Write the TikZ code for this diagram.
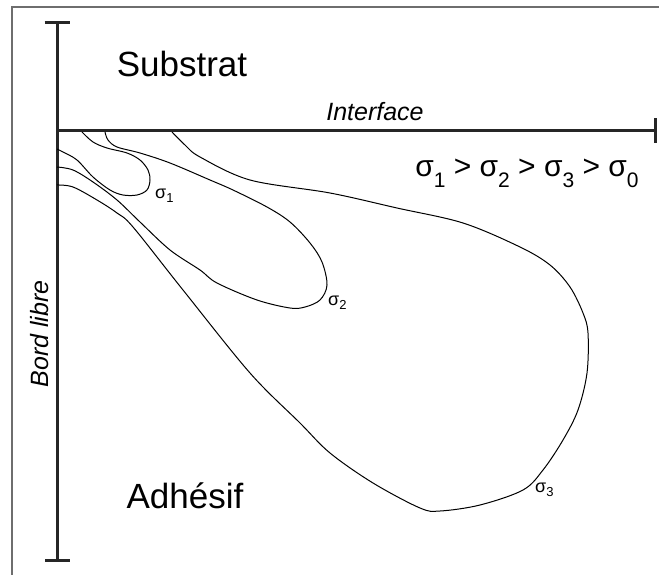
\documentclass[tikz,border=0pt]{standalone}
\usepackage{fontspec}
\setmainfont{Liberation Sans}
\usetikzlibrary{arrows.meta}
\definecolor{framegray}{RGB}{110,110,110}
\newcommand{\sigsub}[3]{σ\raisebox{#3}{\fontsize{#2}{#2}\selectfont#1}}

\begin{document}
\begin{tikzpicture}[x=1pt, y=-1pt,
  axis/.style={line width=3pt, color=black!85},
  contour/.style={line width=1pt, smooth, tension=0.55},
  region/.style={font=\fontsize{35}{40}\selectfont, anchor=base},
  edgelbl/.style={font=\itshape\fontsize{25}{28}\selectfont, anchor=base},
  siglbl/.style={font=\fontsize{18}{20}\selectfont, anchor=base west, inner sep=0pt},
]
\useasboundingbox (0,0) rectangle (659,575);
\draw[framegray, line width=1.5pt] (12,575) -- (12,7) -- (659,7);

\coordinate (top) at (57,21);
\coordinate (corner) at (57,131);
\coordinate (bottom) at (57,562);
\coordinate (far) at (657,131);
\draw[axis, {Bar[width=25pt]}-{Bar[width=25pt]}] (top) -- (bottom);
\draw[axis, -{Bar[width=25pt]}] (corner) -- (far);

\draw[contour] plot coordinates {(82,132) (93,142) (107,148) (127,153) (140,160) (148,170) (150,180) (147,190) (137,195) (123,195) (110,190) (93,177) (77,160) (63,152) (57,149)};
\draw[contour] plot coordinates {(105,132) (108,140) (117,147) (140,153) (170,163) (210,180) (233,190) (267,207) (290,222) (310,243) (322,262) (327,285) (320,300) (305,307) (290,308) (257,300) (217,283) (200,270) (170,250) (140,222) (117,200) (93,182) (73,170) (57,167)};
\draw[contour] plot coordinates {(172,132) (185,145) (200,157) (250,180) (330,193) (397,208) (463,223) (520,247) (550,265) (570,287) (583,313) (588,333) (587,373) (578,410) (563,440) (543,470) (523,490) (480,505) (440,511) (420,508) (373,483) (330,453) (300,423) (250,373) (183,290) (133,227) (117,213) (97,200) (73,187) (57,185)};

\node[region] (substrat) at (182,77) {Substrat};
\node[region] (adhesif) at (185,508) {Adhésif};
\node[edgelbl] (interface) at (375,121) {Interface};
\node[edgelbl, rotate=90] (bord) at (48,334) {Bord libre};
\node[font=\fontsize{30}{34}\selectfont, anchor=base] (order) at (527,177)
  {\sigsub{1}{21}{-11pt} > \sigsub{2}{21}{-11pt} > \sigsub{3}{21}{-11pt} > \sigsub{0}{21}{-11pt}};
\node[siglbl] (s1) at (155,199) {\sigsub{1}{13}{-4pt}};
\node[siglbl] (s2) at (328,305) {\sigsub{2}{13}{-4pt}};
\node[siglbl] (s3) at (535,492) {\sigsub{3}{13}{-4pt}};
\end{tikzpicture}
\end{document}
